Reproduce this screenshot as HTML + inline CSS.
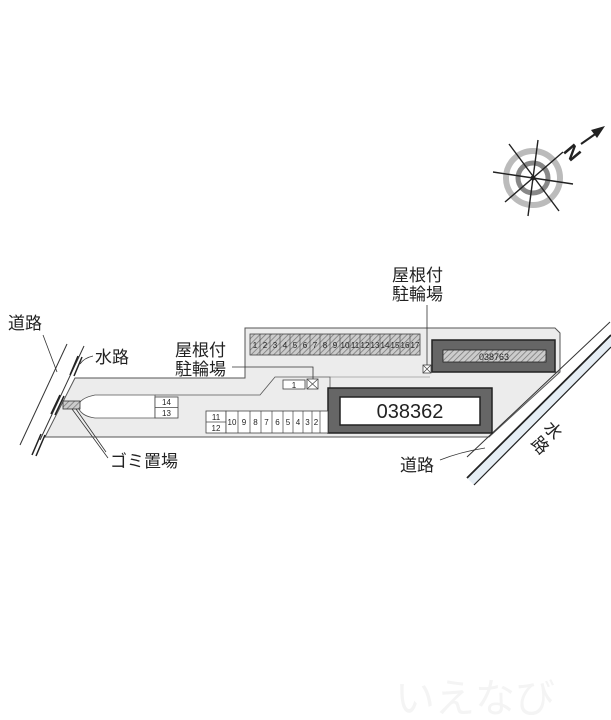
<!DOCTYPE html>
<html><head><meta charset="utf-8"><style>
html,body{margin:0;padding:0;background:#fff;width:611px;height:720px;overflow:hidden}
svg{display:block}
text{font-family:"Liberation Sans","Noto Sans CJK JP",sans-serif;fill:#222}
</style></head><body>
<svg width="611" height="720" viewBox="0 0 611 720" xmlns="http://www.w3.org/2000/svg">
<defs>
<pattern id="h" width="4" height="4" patternUnits="userSpaceOnUse" patternTransform="rotate(45)">
<rect width="4" height="4" fill="#ccc"/><line x1="0" y1="0" x2="0" y2="4" stroke="#777" stroke-width="1.5"/></pattern>
</defs>
<polygon points="75,378 245,378 245,328 555,328 560,333 560,372 489,437 45,437" fill="#ececec" stroke="#555" stroke-width="1"/>
<path d="M155,395 L95,395 Q80,398 78,406 Q80,416 95,418 L155,418 Z" fill="#fff" stroke="#555" stroke-width="0.8"/>
<polyline points="155,395 260,395 275,377 330,377 330,388" fill="none" stroke="#555" stroke-width="0.8"/>
<line x1="493" y1="372" x2="560" y2="372" stroke="#555" stroke-width="0.8"/>
<line x1="330" y1="377" x2="430" y2="377" stroke="#777" stroke-width="0.6"/>
<line x1="20" y1="445" x2="67" y2="344" stroke="#333" stroke-width="1"/>
<line x1="40" y1="440" x2="84" y2="346" stroke="#333" stroke-width="1"/>
<g stroke="#222" stroke-width="1.5">
<line x1="70" y1="375" x2="78" y2="356"/><line x1="74" y1="376" x2="82" y2="357"/>
<line x1="51" y1="414" x2="60" y2="395"/><line x1="55" y1="415" x2="64" y2="396"/>
<line x1="32" y1="455" x2="41" y2="434"/><line x1="36" y1="456" x2="45" y2="435"/>
</g>
<rect x="63" y="401" width="17" height="8" fill="url(#h)" stroke="#333" stroke-width="0.8"/>
<line x1="610" y1="322" x2="467" y2="457" stroke="#333" stroke-width="1"/>
<polygon points="611,335 611,347 474,485 467,478" fill="#e6eef5"/>
<line x1="611" y1="335" x2="467" y2="478" stroke="#222" stroke-width="1.8"/>
<line x1="611" y1="347" x2="474" y2="485" stroke="#222" stroke-width="1.2"/>
<rect x="250" y="334" width="170" height="21" fill="url(#h)" stroke="#444" stroke-width="0.8"/>
<g font-size="8" text-anchor="middle">
<text x="255" y="348">1</text><text x="265" y="348">2</text><text x="275" y="348">3</text><text x="285" y="348">4</text><text x="295" y="348">5</text><text x="305" y="348">6</text><text x="315" y="348">7</text><text x="325" y="348">8</text><text x="335" y="348">9</text><text x="345" y="348">10</text><text x="355" y="348">11</text><text x="365" y="348">12</text><text x="375" y="348">13</text><text x="385" y="348">14</text><text x="395" y="348">15</text><text x="405" y="348">16</text><text x="415" y="348">17</text>
</g>
<g stroke="#444" stroke-width="0.6"><line x1="260" y1="334" x2="260" y2="355"/><line x1="270" y1="334" x2="270" y2="355"/><line x1="280" y1="334" x2="280" y2="355"/><line x1="290" y1="334" x2="290" y2="355"/><line x1="300" y1="334" x2="300" y2="355"/><line x1="310" y1="334" x2="310" y2="355"/><line x1="320" y1="334" x2="320" y2="355"/><line x1="330" y1="334" x2="330" y2="355"/><line x1="340" y1="334" x2="340" y2="355"/><line x1="350" y1="334" x2="350" y2="355"/><line x1="360" y1="334" x2="360" y2="355"/><line x1="370" y1="334" x2="370" y2="355"/><line x1="380" y1="334" x2="380" y2="355"/><line x1="390" y1="334" x2="390" y2="355"/><line x1="400" y1="334" x2="400" y2="355"/><line x1="410" y1="334" x2="410" y2="355"/></g>
<rect x="432" y="340" width="123" height="32" fill="#666" stroke="#222" stroke-width="1.5"/>
<rect x="443" y="350" width="103" height="12" fill="url(#h)" stroke="#222" stroke-width="0.8"/>
<text x="494" y="360" font-size="9" text-anchor="middle" fill="#fff">038763</text>
<rect x="328" y="388" width="164" height="45" fill="#666" stroke="#222" stroke-width="1.5"/>
<rect x="340" y="397" width="140" height="28" fill="#fff" stroke="#222" stroke-width="1.5"/>
<text x="410" y="418" font-size="20" text-anchor="middle">038362</text>
<g fill="#fff" stroke="#444" stroke-width="0.8">
<rect x="155" y="397" width="23" height="21"/><line x1="155" y1="407.5" x2="178" y2="407.5"/>
<rect x="206" y="411" width="20" height="22"/><line x1="206" y1="422" x2="226" y2="422"/>
<rect x="226" y="411" width="102" height="22"/>
<rect x="283" y="380" width="22" height="9"/>
<rect x="307" y="379" width="11" height="10"/>
<rect x="423" y="365" width="8" height="8"/>
</g>
<g stroke="#444" stroke-width="0.7">
<line x1="238" y1="411" x2="238" y2="433"/><line x1="250" y1="411" x2="250" y2="433"/><line x1="261" y1="411" x2="261" y2="433"/><line x1="272" y1="411" x2="272" y2="433"/><line x1="283" y1="411" x2="283" y2="433"/><line x1="293" y1="411" x2="293" y2="433"/><line x1="303" y1="411" x2="303" y2="433"/><line x1="312" y1="411" x2="312" y2="433"/><line x1="320" y1="411" x2="320" y2="433"/>
<line x1="307" y1="379" x2="318" y2="389"/><line x1="318" y1="379" x2="307" y2="389"/>
<line x1="423" y1="365" x2="431" y2="373"/><line x1="431" y1="365" x2="423" y2="373"/>
</g>
<g font-size="8" text-anchor="middle">
<text x="166.5" y="405">14</text><text x="166.5" y="416">13</text>
<text x="216" y="420">11</text><text x="216" y="431">12</text>
<text x="232" y="425">10</text><text x="244" y="425">9</text><text x="255.5" y="425">8</text><text x="266.5" y="425">7</text><text x="277.5" y="425">6</text><text x="288" y="425">5</text><text x="298" y="425">4</text><text x="307.5" y="425">3</text><text x="316" y="425">2</text>
<text x="294" y="388">1</text>
</g>
<g stroke="#333" stroke-width="0.8" fill="none">
<line x1="43" y1="335" x2="57" y2="372"/>
<path d="M93,356 Q84,358 80,364"/>
<polyline points="232,367 313,367 313,379"/>
<line x1="427" y1="305" x2="427" y2="365"/>
<line x1="72" y1="409" x2="108" y2="458"/><line x1="76" y1="409" x2="106" y2="452"/>
<path d="M440,460 Q460,452 485,448"/>
</g>
<g font-size="17">
<text x="8" y="329">道路</text>
<text x="95" y="363">水路</text>
<text x="175" y="356">屋根付</text><text x="175" y="375">駐輪場</text>
<text x="392" y="281">屋根付</text><text x="392" y="300">駐輪場</text>
<text x="110" y="467">ゴミ置場</text>
<text x="400" y="471">道路</text>
<text x="0" y="0" transform="translate(543,428) rotate(48)">水</text>
<text x="0" y="0" transform="translate(530,443) rotate(48)">路</text>
</g>
<g transform="translate(533,178)">
<circle r="27" fill="none" stroke="#bbb" stroke-width="6"/>
<circle r="15" fill="none" stroke="#888" stroke-width="5"/>
<g stroke="#222" stroke-width="1.4">
<line x1="-28" y1="24" x2="30" y2="-26"/>
<line x1="-24" y1="-34" x2="26" y2="33"/>
<line x1="5" y1="-38" x2="-5" y2="38"/>
<line x1="-40" y1="-6" x2="40" y2="6"/>
</g>
<circle r="2.5" fill="#222"/>
<text x="32" y="-18" font-size="20" font-weight="bold" transform="rotate(50 40 -25)" fill="#222">N</text>
<line x1="48" y1="-34" x2="68" y2="-48" stroke="#222" stroke-width="2"/>
<polygon points="72,-52 58,-48 64,-40" fill="#222"/>
</g>
<text x="395" y="712" font-size="40" style="fill:#f4f4f4">いえなび</text>
</svg>
</body></html>
